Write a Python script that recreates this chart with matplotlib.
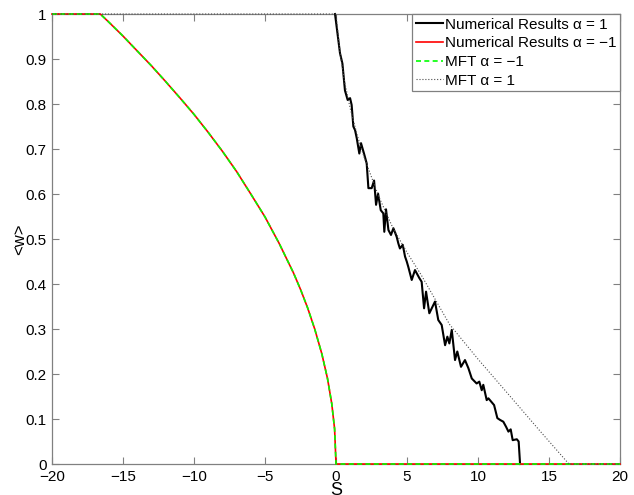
import matplotlib
matplotlib.use("Agg")
import matplotlib.pyplot as plt

plt.rcParams['font.family'] = ['Liberation Sans', 'DejaVu Sans']

# Numerical results alpha = 1 (noisy black curve)
S_num_pos = [-0.07, 0.28, 0.45, 0.63, 0.82, 0.99, 1.1, 1.22, 1.34, 1.46, 1.64, 1.76, 1.97, 2.16,
             2.28, 2.51, 2.68, 2.82, 2.96, 3.15, 3.33, 3.4, 3.52, 3.69, 3.87, 4.04, 4.27, 4.39, 4.5,
             4.7, 4.86, 4.98, 5.09, 5.33, 5.56, 5.87, 6.03, 6.2, 6.34, 6.57, 6.97, 7.2, 7.44, 7.68,
             7.84, 7.98, 8.15, 8.38, 8.54, 8.8, 9.08, 9.32, 9.56, 9.9, 10.09, 10.26, 10.37, 10.61,
             10.73, 11.13, 11.36, 11.55, 11.78, 11.97, 12.14, 12.3, 12.44, 12.73, 12.86, 12.96]
w_num_pos = [1, 0.913, 0.89, 0.83, 0.809, 0.813, 0.798, 0.75, 0.742, 0.724, 0.69, 0.713, 0.69, 0.668,
             0.613, 0.613, 0.63, 0.576, 0.601, 0.564, 0.557, 0.516, 0.566, 0.52, 0.509, 0.524, 0.505, 0.49, 0.479,
             0.487, 0.461, 0.45, 0.438, 0.409, 0.431, 0.413, 0.405, 0.346, 0.383, 0.335, 0.361, 0.32, 0.309, 0.264,
             0.283, 0.268, 0.298, 0.231, 0.25, 0.216, 0.231, 0.213, 0.19, 0.179, 0.183, 0.164, 0.176, 0.142,
             0.146, 0.131, 0.102, 0.098, 0.094, 0.083, 0.072, 0.077, 0.053, 0.055, 0.05, 0.0]

# alpha = -1 (numerical and MFT coincide)
S_neg = [-20, -16.6, -16, -15, -14, -13, -12, -11, -10, -9, -8, -7, -6, -5, -4, -3, -2.5, -2,
         -1.5, -1, -0.6, -0.3, -0.1, 0, 20]
w_neg = [1, 1, 0.982, 0.951, 0.918, 0.885, 0.85, 0.814, 0.777, 0.737, 0.695, 0.65, 0.6, 0.549,
         0.49, 0.425, 0.388, 0.347, 0.30, 0.245, 0.19, 0.134, 0.078, 0.0, 0.0]

# MFT alpha = 1 (dotted)
S_mft_pos = [-20, 0, 0.3, 0.6, 1, 1.5, 2, 3, 4, 5, 6, 7, 8, 10, 12, 14.4, 16.4, 20]
w_mft_pos = [1, 1, 0.91, 0.85, 0.79, 0.73, 0.68, 0.595, 0.525, 0.47, 0.42, 0.365, 0.31, 0.233, 0.16, 0.072, 0.0, 0.0]

xticks = [-20, -15, -10, -5, 0, 5, 10, 15, 20]
yticks = [0, 0.1, 0.2, 0.3, 0.4, 0.5, 0.6, 0.7, 0.8, 0.9, 1]
ytick_labels = ['0', '0.1', '0.2', '0.3', '0.4', '0.5', '0.6', '0.7', '0.8', '0.9', '1']

fig = plt.figure(figsize=(6.34, 4.95), dpi=100)
ax = fig.add_axes([0.082, 0.0626, 0.896, 0.9091])

ax.plot(S_num_pos, w_num_pos, color='black', lw=1.5, label='Numerical Results α = 1', clip_on=False, zorder=3)
ax.plot(S_neg, w_neg, color='red', lw=1.2, label='Numerical Results α = −1', clip_on=False, zorder=3)
ax.plot(S_neg, w_neg, color='#00ff00', lw=1.2, dashes=(3, 2), label='MFT α = −1', clip_on=False, zorder=3)
ax.plot(S_mft_pos, w_mft_pos, color='0.3', lw=0.8, ls=':', label='MFT α = 1', clip_on=False, zorder=3)

ax.set_xlim(-20, 20)
ax.set_ylim(0, 1)
ax.set_xticks(xticks)
ax.set_xticklabels([str(t).replace('-', '−') for t in xticks])
ax.set_yticks(yticks)
ax.set_yticklabels(ytick_labels)

for sp in ax.spines.values():
    sp.set_color('#808080')
    sp.set_linewidth(0.9)
ax.tick_params(direction='in', length=5, width=0.8, color='#808080', labelsize=11,
               top=True, right=True, pad=4)

ax.set_xlabel('S', fontsize=13, labelpad=-1)
ax.set_ylabel('<w>', fontsize=12, labelpad=-1)

leg = ax.legend(loc='upper right', fontsize=11, handlelength=1.8, handletextpad=0.1,
                borderaxespad=0, fancybox=False, framealpha=1, borderpad=0.25,
                labelspacing=0.3)
leg.get_frame().set_edgecolor('#808080')
leg.get_frame().set_linewidth(0.9)
leg.set_zorder(5)

fig.savefig('out.png', dpi=100)
